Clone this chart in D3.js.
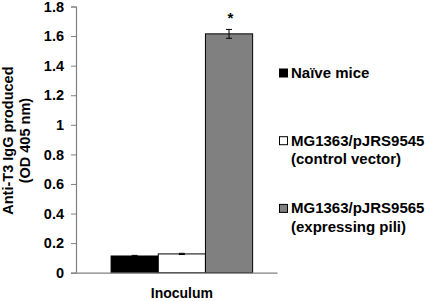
<!DOCTYPE html>
<html>
<head>
<meta charset="utf-8">
<script src="https://cdn.jsdelivr.net/npm/d3@7"></script>
<style>
  body { margin: 0; background: #fff; }
  text { font-family: "Liberation Sans", Arial, sans-serif; font-weight: bold; }
</style>
</head>
<body>
<div id="chart"></div>
<script>
// data
const groups = ["Inoculum"];
const seriesNames = ["Naïve mice", "MG1363/pJRS9545 (control vector)", "MG1363/pJRS9565 (expressing pili)"];
const legendLines = [["Naïve mice"], ["MG1363/pJRS9545", "(control vector)"], ["MG1363/pJRS9565", "(expressing pili)"]];
const values = [0.113, 0.127, 1.615];
const errors = [0.004, 0.004, 0.03];
const marks = ["", "", "*"];
const yTicks = [0, 0.2, 0.4, 0.6, 0.8, 1, 1.2, 1.4, 1.6, 1.8];
const yTitle = ["Anti-T3 IgG produced", "(OD 405 nm)"];
const colors = ["#000000", "#ffffff", "#808080"];

const W = 425, H = 301;
const margin = {top: 6.5, right: 148, bottom: 28.3, left: 76};

const svg = d3.select("#chart")
  .append("svg")
    .attr("width", W)
    .attr("height", H);

const y = d3.scaleLinear()
  .domain([0, 1.8])
  .range([H - margin.bottom, margin.top]);

// single category, the group sits a bit right of centre like in the original
const x0 = d3.scaleBand()
  .domain(groups)
  .range([margin.left, W - margin.right])
  .paddingInner(0)
  .paddingOuter(0.21)
  .align(0.59);

const x1 = d3.scaleBand()
  .domain(seriesNames)
  .range([0, x0.bandwidth()]);

const data = seriesNames.map((name, i) => ({name: name, value: values[i], err: errors[i], mark: marks[i], color: colors[i]}));

// Y axis
const yAxis = svg.append("g")
  .attr("transform", `translate(${margin.left},0)`)
  .call(d3.axisLeft(y).tickValues(yTicks).tickFormat(d3.format("")).tickSize(5).tickPadding(7));
yAxis.select(".domain").attr("stroke", "#808080").attr("stroke-width", 1.2);
yAxis.selectAll(".tick line").attr("stroke", "#808080");
yAxis.selectAll(".tick text")
  .attr("fill", "#000")
  .style("font-size", "14.5px");

// bars
const g = svg.append("g").attr("transform", `translate(${x0(groups[0])},0)`);

g.selectAll("rect")
  .data(data)
  .join("rect")
    .attr("x", d => x1(d.name))
    .attr("y", d => y(d.value))
    .attr("width", x1.bandwidth())
    .attr("height", d => y(0) - y(d.value))
    .attr("fill", d => d.color)
    .attr("stroke", "#000")
    .attr("stroke-width", 1);

// error bars
const eb = g.selectAll(".err")
  .data(data)
  .join("g")
    .attr("class", "err")
    .attr("stroke", "#000")
    .attr("stroke-width", 1);
eb.append("line")
  .attr("x1", d => x1(d.name) + x1.bandwidth() / 2)
  .attr("x2", d => x1(d.name) + x1.bandwidth() / 2)
  .attr("y1", d => y(d.value + d.err))
  .attr("y2", d => y(d.value - d.err));
eb.append("line")
  .attr("x1", d => x1(d.name) + x1.bandwidth() / 2 - 3)
  .attr("x2", d => x1(d.name) + x1.bandwidth() / 2 + 3)
  .attr("y1", d => y(d.value + d.err))
  .attr("y2", d => y(d.value + d.err));
eb.append("line")
  .attr("x1", d => x1(d.name) + x1.bandwidth() / 2 - 3)
  .attr("x2", d => x1(d.name) + x1.bandwidth() / 2 + 3)
  .attr("y1", d => y(d.value - d.err))
  .attr("y2", d => y(d.value - d.err));

// significance star
g.selectAll(".mark")
  .data(data.filter(d => d.mark))
  .join("text")
    .attr("class", "mark")
    .attr("x", d => x1(d.name) + x1.bandwidth() / 2 + 1.5)
    .attr("y", d => y(d.value + d.err) - 6)
    .attr("text-anchor", "middle")
    .style("font-size", "15px")
    .text(d => d.mark);

// X axis (drawn after bars so it sits on top)
const xAxis = svg.append("g")
  .attr("transform", `translate(0,${y(0)})`)
  .call(d3.axisBottom(x0).tickSize(0).tickPadding(15.5));
xAxis.select(".domain").attr("stroke", "#808080").attr("stroke-width", 1.2);
xAxis.selectAll(".tick text")
  .attr("fill", "#000")
  .style("font-size", "14px");

// Y title
const yt = svg.append("text")
  .attr("transform", `translate(0,${(y(0) + y(1.8)) / 2 + 1}) rotate(-90)`)
  .attr("text-anchor", "middle")
  .style("font-size", "14.5px");
yt.selectAll("tspan")
  .data(yTitle)
  .join("tspan")
    .attr("x", 0)
    .attr("y", (d, i) => 13 + i * 17)
    .text(d => d);

// legend
const legend = svg.append("g").attr("transform", "translate(279,0)");
const item = legend.selectAll("g")
  .data(data)
  .join("g")
    .attr("transform", (d, i) => `translate(0,${78 + i * 67.7})`);
item.append("rect")
  .attr("x", 0.5)
  .attr("y", -9)
  .attr("width", 8)
  .attr("height", 8)
  .attr("fill", d => d.color)
  .attr("stroke", "#000")
  .attr("stroke-width", 1);
item.append("text")
  .style("font-size", "15px")
  .selectAll("tspan")
  .data((d, i) => legendLines[i])
  .join("tspan")
    .attr("x", 12)
    .attr("y", (d, j) => j * 18.5)
    .text(d => d);
</script>
</body>
</html>
